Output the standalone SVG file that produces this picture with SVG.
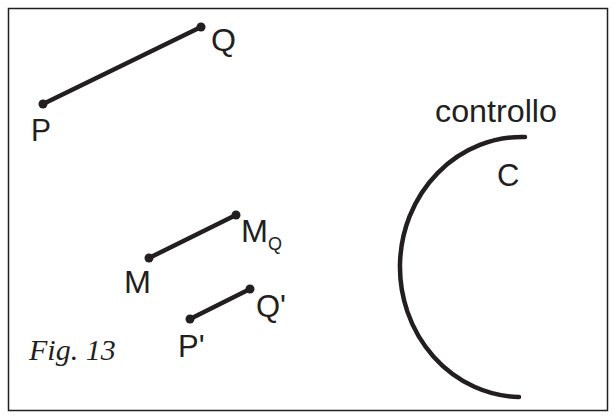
<svg xmlns="http://www.w3.org/2000/svg" width="616" height="419" viewBox="0 0 616 419">
<style>
.lbl{font-family:"Liberation Sans",Arial,sans-serif;font-size:31px;fill:#231f20}
.sub{font-family:"Liberation Sans",Arial,sans-serif;font-size:18px;fill:#231f20}
.fig{font-family:"Liberation Serif","Times New Roman",serif;font-size:30px;font-style:italic;fill:#231f20}
.seg{stroke:#231f20;stroke-width:4.5;stroke-linecap:round;fill:none}
.dot{fill:#231f20}
</style>
<rect x="8.5" y="8.5" width="599" height="402" fill="#fff" stroke="#231f20" stroke-width="1.5"/>
<g id="connectors">
<line class="seg" x1="43" y1="104" x2="201" y2="27"/>
<line class="seg" x1="149" y1="258" x2="236" y2="215"/>
<line class="seg" x1="190" y1="319" x2="250" y2="289"/>
<path class="seg" d="M525 137 A122 130 0 0 0 519 397" stroke-linecap="butt"/>
</g>
<g id="P"><circle class="dot" cx="43" cy="104" r="4.5"/><text class="lbl" x="31" y="141" textLength="20" lengthAdjust="spacingAndGlyphs">P</text></g>
<g id="Q"><circle class="dot" cx="201" cy="27" r="4.5"/><text class="lbl" x="211" y="51" textLength="25" lengthAdjust="spacingAndGlyphs">Q</text></g>
<g id="M"><circle class="dot" cx="149" cy="258" r="4.5"/><text class="lbl" x="124" y="293" textLength="27" lengthAdjust="spacingAndGlyphs">M</text></g>
<g id="MQ"><circle class="dot" cx="236" cy="215" r="4.5"/><text class="lbl" x="241" y="242" textLength="27" lengthAdjust="spacingAndGlyphs">M</text><text class="sub" x="268" y="250">Q</text></g>
<g id="Pp"><circle class="dot" cx="190" cy="319" r="4.5"/><text class="lbl" x="178" y="357">P'</text></g>
<g id="Qp"><circle class="dot" cx="250" cy="289" r="4.5"/><text class="lbl" x="256" y="317">Q'</text></g>
<g id="C"><text class="lbl" x="435" y="122" textLength="122" lengthAdjust="spacingAndGlyphs">controllo</text><text class="lbl" x="497" y="186">C</text></g>
<text class="fig" x="29" y="360">Fig. 13</text>
</svg>
